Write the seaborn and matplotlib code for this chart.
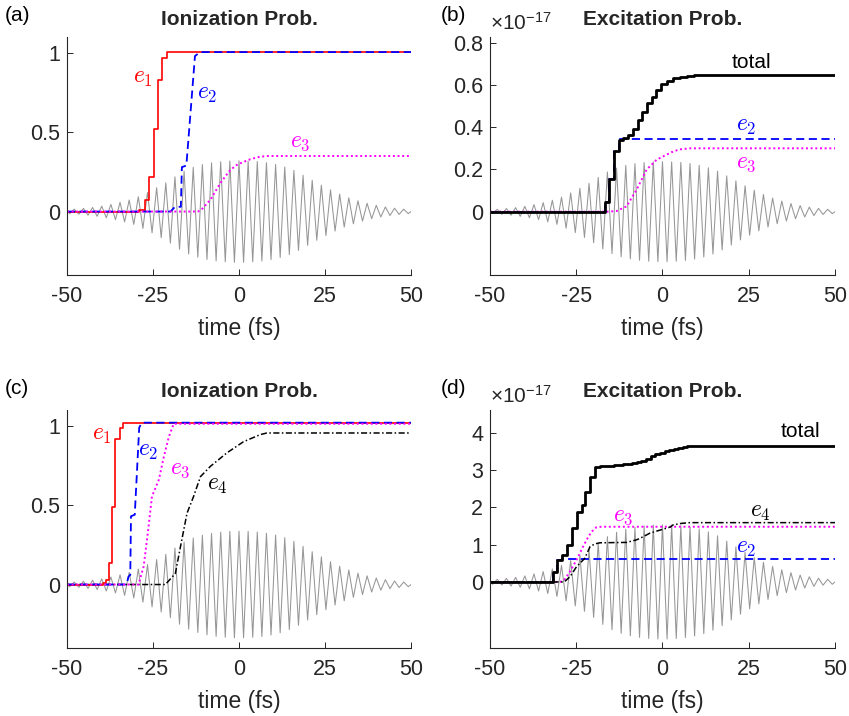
import matplotlib
matplotlib.use("Agg")
import matplotlib.pyplot as plt
import numpy as np
import seaborn as sns

# laser field: extrema every half cycle (1.33 fs), in units of panel (a)
FIELD_T = [-50.0] + list(np.arange(-37, 38) * 1.33) + [50.0]
FIELD_PEAKS = [0.0,
    -0.013, 0.015, -0.017, 0.020, -0.023, 0.026, -0.030, 0.034, -0.039, 0.045,
    -0.051, 0.058, -0.065, 0.073, -0.081, 0.093, -0.106, 0.120, -0.134, 0.150,
    -0.165, 0.181, -0.199, 0.219, -0.238, 0.254, -0.268, 0.279, -0.288, 0.296,
    -0.302, 0.307, -0.311, 0.314, -0.317, 0.319, -0.320, 0.320, -0.320, 0.319,
    -0.317, 0.315, -0.312, 0.308, -0.303, 0.297, -0.290, 0.281, -0.271, 0.259,
    -0.245, 0.229, -0.213, 0.197, -0.181, 0.166, -0.151, 0.137, -0.123, 0.110,
    -0.098, 0.087, -0.077, 0.068, -0.060, 0.052, -0.045, 0.039, -0.034, 0.029,
    -0.025, 0.021, -0.018, 0.015, -0.013,
    0.0]
FIELD_SCALE = {"a": 1.0, "b": 0.74, "c": 1.05, "d": 4.78}

# (a) ionization probability
A_E1_T = [-50, -29.0, -27.4, -26.2, -24.6, -23.5, -22.4, -21.0, 50]
A_E1_P = [0, 0.012, 0.07, 0.22, 0.52, 0.83, 0.97, 1.005, 1.005]
A_E2_T = [-50, -19.9, -18.6, -16.9, -16.6, -15.3, -12.8, -11.3, 50]
A_E2_P = [0, 0, 0.03, 0.03, 0.28, 0.29, 0.98, 1.005, 1.005]
A_E3_T = [-50, -12.0, -11.0, -8.3, -5.4, -3.0, -1.0, 1.0, 3.3, 6.0, 8.1, 50]
A_E3_P = [0, 0, 0.01, 0.075, 0.18, 0.25, 0.29, 0.31, 0.33, 0.345, 0.35, 0.35]

# (b) excitation probability (x 1e-17)
B_TOT_T = [-50, -16.7, -15.4, -14.0, -12.6, -11.4, -9.9, -8.6, -7.2, -5.9,
           -4.6, -3.1, -1.9, -0.4, 1.2, 3.0, 5.0, 7.0, 9.0, 50]
B_TOT_P = [0, 0.044, 0.155, 0.285, 0.34, 0.35, 0.364, 0.39, 0.435, 0.474,
           0.514, 0.545, 0.577, 0.605, 0.62, 0.632, 0.640, 0.644, 0.645, 0.645]
B_E2_T = [-50, -16.7, -15.4, -14.0, -12.6, 50]
B_E2_P = [0, 0.044, 0.155, 0.285, 0.345, 0.345]
B_E3_T = [-50, -16.0, -13.3, -10.4, -7.5, -4.6, -1.7, 1.2, 3.1, 5.0, 8.0, 50]
B_E3_P = [0, 0, 0.003, 0.025, 0.104, 0.199, 0.246, 0.27, 0.285, 0.295, 0.30, 0.30]

# (c) ionization probability
C_E1_T = [-50, -39.5, -38.8, -37.9, -36.9, -35.9, -34.5, -33.7, 50]
C_E1_P = [0, 0.01, 0.03, 0.136, 0.49, 0.916, 0.985, 1.015, 1.015]
C_E2_T = [-50, -32.7, -32.1, -31.6, -31.4, -30.3, -29.0, -28.2, 50]
C_E2_P = [0, 0, 0.05, 0.06, 0.43, 0.44, 0.99, 1.02, 1.02]
C_E3_T = [-50, -29.2, -27.7, -26.5, -25.3, -23.3, -21.9, -20.4, -19.0, 50]
C_E3_P = [0, 0, 0.115, 0.325, 0.555, 0.66, 0.80, 0.93, 1.013, 1.013]
C_E4_T = [-50, -21.4, -18.5, -17.0, -15.1, -13.2, -11.2, -8.3, -3.5, 1.3, 6.2, 8.1, 50]
C_E4_P = [0, 0, 0.07, 0.24, 0.45, 0.555, 0.68, 0.745, 0.83, 0.90, 0.945, 0.955, 0.955]

# (d) excitation probability (x 1e-17)
D_TOT_T = [-50, -31.8, -30.5, -29.2, -27.8, -26.3, -24.9, -23.4, -22.5, -21.0,
           -19.6, -18.1, -14.1, -11.4, -8.8, -7.4, -6.1, -4.8, -3.4, -2.1,
           -0.8, 0.6, 1.9, 3.2, 4.6, 5.9, 7.2, 8.6, 50]
D_TOT_P = [0, 0.28, 0.59, 0.72, 0.99, 1.44, 1.885, 2.06, 2.42, 2.82,
           3.09, 3.12, 3.13, 3.15, 3.18, 3.21, 3.25, 3.30, 3.38, 3.43,
           3.47, 3.51, 3.54, 3.57, 3.60, 3.62, 3.635, 3.64, 3.64]
D_E2_T = [-50, -31.8, -30.5, -29.2, 50]
D_E2_P = [0, 0.28, 0.59, 0.61, 0.61]
D_E3_T = [-50, -29.7, -28.5, -26.8, -24.9, -23.0, -21.5, -20.5, -19.1, -17.5, 50]
D_E3_P = [0, 0, 0.05, 0.28, 0.59, 0.95, 1.21, 1.35, 1.47, 1.48, 1.48]
D_E4_T = [-50, -28.5, -26.8, -24.9, -22.5, -21.0, -19.6, -18.1, -10.4, -7.5,
          -6.5, -3.6, -0.7, 2.2, 3.1, 5.5, 8.0, 50]
D_E4_P = [0, 0, 0.14, 0.41, 0.635, 0.946, 1.02, 1.05, 1.06, 1.13,
          1.17, 1.31, 1.39, 1.47, 1.53, 1.57, 1.59, 1.59]

TIME_TICKS = [-50, -25, 0, 25, 50]

STYLES = {
    "e1": dict(color="#ff0000", ls="-", lw=1.2),
    "e2": dict(color="#0000ff", ls=(0, (4.5, 2.5)), lw=1.3),
    "e3": dict(color="#ff00ff", ls=(0, (1, 1.4)), lw=1.4),
    "e4": dict(color="black", ls=(0, (4, 1.6, 1, 1.6)), lw=1.1),
    "total": dict(color="black", ls="-", lw=2.0),
}

sns.set_style("ticks")
plt.rcParams["font.family"] = ["Liberation Sans", "DejaVu Sans"]
plt.rcParams["mathtext.fontset"] = "cm"
plt.rcParams["axes.unicode_minus"] = False
plt.rcParams["xtick.direction"] = "in"
plt.rcParams["ytick.direction"] = "in"

DARK = "#262626"


def curve(ax, t, p, key, steps=False):
    kw = dict(STYLES[key])
    if steps:
        kw["drawstyle"] = "steps-post"
    sns.lineplot(x=t, y=p, ax=ax, estimator=None, sort=False, **kw)


def setup(ax, key, ylim, yticks, title):
    sns.lineplot(x=FIELD_T, y=np.array(FIELD_PEAKS) * FIELD_SCALE[key], ax=ax,
                 estimator=None, sort=False, color="#969696", lw=0.75, zorder=1)
    ax.set_xlim(-50, 50)
    ax.set_ylim(*ylim)
    ax.set_xticks(TIME_TICKS)
    ax.set_yticks(yticks)
    ax.set_xlabel("time (fs)", fontsize=16.5, color=DARK, labelpad=7)
    ax.set_title(title, fontweight="bold", fontsize=15, pad=9)
    sns.despine(ax=ax)
    for s in ("left", "bottom"):
        ax.spines[s].set_color(DARK)
        ax.spines[s].set_linewidth(0.8)
    ax.tick_params(labelsize=15.5, colors=DARK, length=4, width=0.7)
    ax.tick_params(axis="x", pad=8)
    ax.tick_params(axis="y", pad=5)


fig = plt.figure(figsize=(8.49, 7.16), dpi=100)
ax_a = fig.add_axes([0.0789, 0.6159, 0.4052, 0.3324])
ax_b = fig.add_axes([0.5771, 0.6159, 0.4064, 0.3324])
ax_c = fig.add_axes([0.0789, 0.0950, 0.4052, 0.3324])
ax_d = fig.add_axes([0.5771, 0.0950, 0.4064, 0.3324])

# (a)
setup(ax_a, "a", (-0.4, 1.1), [0, 0.5, 1], "Ionization Prob.")
ax_a.set_yticklabels(["0", "0.5", "1"])
curve(ax_a, A_E1_T, A_E1_P, "e1", steps=True)
curve(ax_a, A_E2_T, A_E2_P, "e2")
curve(ax_a, A_E3_T, A_E3_P, "e3")
ax_a.text(-27.8, 0.84, "$e_1$", color="#ff0000", fontsize=17, ha="center", va="center")
ax_a.text(-9.2, 0.74, "$e_2$", color="#0000ff", fontsize=17, ha="center", va="center")
ax_a.text(17.8, 0.44, "$e_3$", color="#ff00ff", fontsize=17, ha="center", va="center")

# (b)
setup(ax_b, "b", (-0.3, 0.827), [0, 0.2, 0.4, 0.6, 0.8], "Excitation Prob.")
ax_b.set_yticklabels(["0", "0.2", "0.4", "0.6", "0.8"])
curve(ax_b, B_E2_T, B_E2_P, "e2", steps=True)
curve(ax_b, B_E3_T, B_E3_P, "e3")
curve(ax_b, B_TOT_T, B_TOT_P, "total", steps=True)
ax_b.text(25.9, 0.707, "total", color="black", fontsize=15, ha="center", va="center")
ax_b.text(24.4, 0.405, "$e_2$", color="#0000ff", fontsize=17, ha="center", va="center")
ax_b.text(24.4, 0.23, "$e_3$", color="#ff00ff", fontsize=17, ha="center", va="center")

# (c)
setup(ax_c, "c", (-0.4, 1.1), [0, 0.5, 1], "Ionization Prob.")
ax_c.set_yticklabels(["0", "0.5", "1"])
curve(ax_c, C_E4_T, C_E4_P, "e4")
curve(ax_c, C_E1_T, C_E1_P, "e1", steps=True)
curve(ax_c, C_E2_T, C_E2_P, "e2")
curve(ax_c, C_E3_T, C_E3_P, "e3")
ax_c.text(-39.8, 0.94, "$e_1$", color="#ff0000", fontsize=17, ha="center", va="center")
ax_c.text(-26.3, 0.84, "$e_2$", color="#0000ff", fontsize=17, ha="center", va="center")
ax_c.text(-17.0, 0.73, "$e_3$", color="#ff00ff", fontsize=17, ha="center", va="center")
ax_c.text(-6.4, 0.63, "$e_4$", color="black", fontsize=17, ha="center", va="center")

# (d)
setup(ax_d, "d", (-1.77, 4.61), [0, 1, 2, 3, 4], "Excitation Prob.")
curve(ax_d, D_E2_T, D_E2_P, "e2", steps=True)
curve(ax_d, D_E3_T, D_E3_P, "e3")
curve(ax_d, D_E4_T, D_E4_P, "e4")
curve(ax_d, D_TOT_T, D_TOT_P, "total", steps=True)
ax_d.text(40.1, 4.02, "total", color="black", fontsize=15, ha="center", va="center")
ax_d.text(-11.4, 1.77, "$e_3$", color="#ff00ff", fontsize=17, ha="center", va="center")
ax_d.text(28.3, 1.885, "$e_4$", color="black", fontsize=17, ha="center", va="center")
ax_d.text(24.4, 0.9, "$e_2$", color="#0000ff", fontsize=17, ha="center", va="center")

for ax in (ax_b, ax_d):
    ax.text(0.0, 1.015, r"$\mathregular{\times10^{-17}}$", transform=ax.transAxes,
            fontsize=15, color=DARK, ha="left", va="bottom")

for x, y, lab in [(0.006, 0.979, "(a)"), (0.519, 0.979, "(b)"),
                  (0.006, 0.458, "(c)"), (0.519, 0.458, "(d)")]:
    fig.text(x, y, lab, fontsize=15, color="black", ha="left", va="center")

fig.savefig("out.png", dpi=100)
